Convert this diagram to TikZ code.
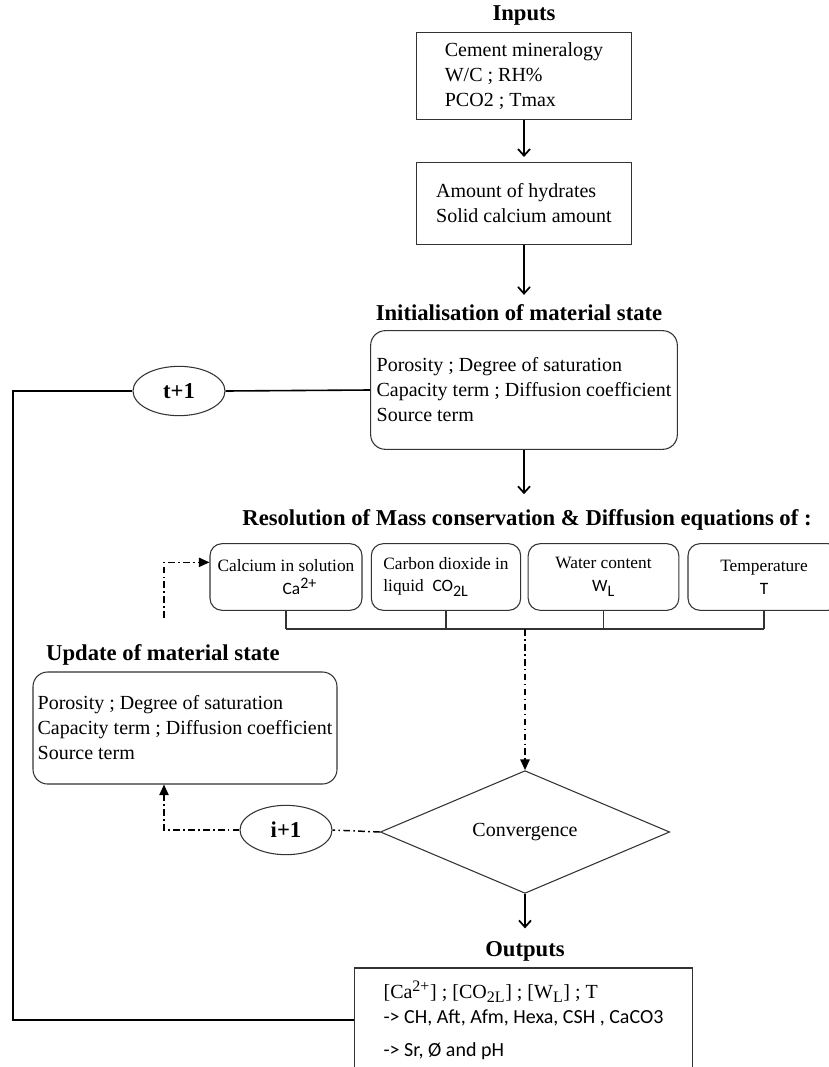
\documentclass[tikz,border=0pt]{standalone}
\usepackage{fontspec}
\setmainfont{Liberation Serif}
\newfontfamily\calfont{Carlito}
\usetikzlibrary{arrows.meta,positioning,calc,shapes.geometric}

\begin{document}
\begin{tikzpicture}[x=0.75pt,y=-0.75pt,
  box/.style={draw=black!80,line width=0.8pt,align=left,inner sep=0pt,
    font=\fontsize{15}{18.75}\selectfont},
  rbox/.style={box,rounded corners=11pt},
  eqbox/.style={draw=black!80,line width=0.8pt,rounded corners=9pt,align=center,
    minimum width=114pt,minimum height=50pt,inner sep=1pt,
    font=\fontsize{13}{17}\selectfont},
  title/.style={font=\fontsize{17}{20}\selectfont\bfseries},
  loopnode/.style={draw=black!80,ellipse,line width=0.8pt,minimum width=69pt,
    minimum height=37pt,inner sep=0pt,font=\fontsize{17}{20}\selectfont\bfseries},
  arr/.style={-{Straight Barb[length=5pt,width=9pt]},line width=1.3pt},
  dd/.style={line width=1.1pt,dash pattern=on 5pt off 2.5pt on 1.2pt off 2.5pt},
  ddarr/.style={dd,-{Triangle[length=8pt,width=7pt]}}
]
\useasboundingbox (0,0) rectangle (828,1067);

% inputs
\node[title] (intitle) at (524,15) {Inputs};
\node[box,minimum width=161pt,minimum height=65pt] (inputs) at (524,76)
  {Cement mineralogy\\W/C ; RH\%\\PCO2 ; Tmax};
\node[box,minimum width=161pt,minimum height=61pt] (amount) at (524,203.5)
  {Amount of hydrates\\Solid calcium amount};
\draw[arr,shorten >=4pt] (inputs.south) -- (inputs.south |- amount.north);

% initial state
\node[title] (inittitle) at (519,313) {Initialisation of material state};
\draw[arr,shorten >=4pt] (amount.south) -- (amount.south |- inittitle.north);
\node[rbox,minimum width=230pt,minimum height=89pt] (init) at (524,390)
  {Porosity ; Degree of saturation\\Capacity term ; Diffusion coefficient\\Source term};

% equations
\node[title] (restitle) at (527,520) {Resolution of Mass conservation \& Diffusion equations of :};
\draw[arr,shorten >=8pt] (init.south) -- (init.south |- restitle.north);
\node[eqbox] (c1) at (286,577) {Calcium in solution\\\hspace*{1.6em}{\calfont Ca\textsuperscript{\large 2+}}};
\node[eqbox,align=left,minimum width=112pt] (c2) at (446,577) {Carbon dioxide in\\liquid\ \ {\calfont CO\textsubscript{\large 2L}}};
\node[eqbox,minimum width=113pt] (c3) at (603.5,577) {Water content\\{\calfont W\textsubscript{\large L}}};
\node[eqbox] (c4) at (764,577) {Temperature\\{\calfont T}};
\coordinate (bus) at (525,629);
\foreach \n in {c1,c2,c3,c4}
  \draw[black!80,line width=0.8pt] (\n.south) -- (\n.south |- bus);
\draw[black!80,line width=0.8pt] (c1.south |- bus) -- (c4.south |- bus);

% convergence loop
\node[draw=black!80,diamond,line width=0.8pt,minimum width=217pt,minimum height=87pt,
  inner sep=0pt,font=\fontsize{15}{18}\selectfont] (conv) at (525,832) {Convergence};
\draw[ddarr] (bus) -- (conv.north);
\node[loopnode] (iplus) at (286,830) {i+1};
\node[title] (updtitle) at (163,655) {Update of material state};
\node[rbox,minimum width=228pt,minimum height=84pt] (update) at (185,728)
  {Porosity ; Degree of saturation\\Capacity term ; Diffusion coefficient\\Source term};
\coordinate (uplink) at (164,618);
\draw[dd] (conv.west) -- (iplus.east);
\draw[ddarr] (iplus.west) -| (uplink |- update.south);
\draw[ddarr] (uplink) |- ([yshift=11pt]c1.west);

% outputs
\node[title] (outtitle) at (525,951) {Outputs};
\draw[arr,shorten >=6pt] (conv.south) -- (conv.south |- outtitle.north);
\node[box,minimum width=253.5pt,minimum height=78pt] (outputs) at (523.5,1020)
  {[Ca\textsuperscript{\large 2+}] ; [CO\textsubscript{\large 2L}] ; [W\textsubscript{\large L}] ; T\\
   {\calfont -> CH, Aft, Afm, Hexa, CSH , CaCO3}\\[6pt]
   {\calfont -> Sr, Ø and pH}};

% time loop
\node[loopnode] (tplus) at (179,391) {t+1};
\coordinate (lft) at (13,391);
\draw[line width=1.2pt] (init.west) -- (tplus.east);
\draw[line width=1.2pt] (tplus.west) -- (lft) -- (lft |- outputs.west) -- (outputs.west);
\end{tikzpicture}
\end{document}
